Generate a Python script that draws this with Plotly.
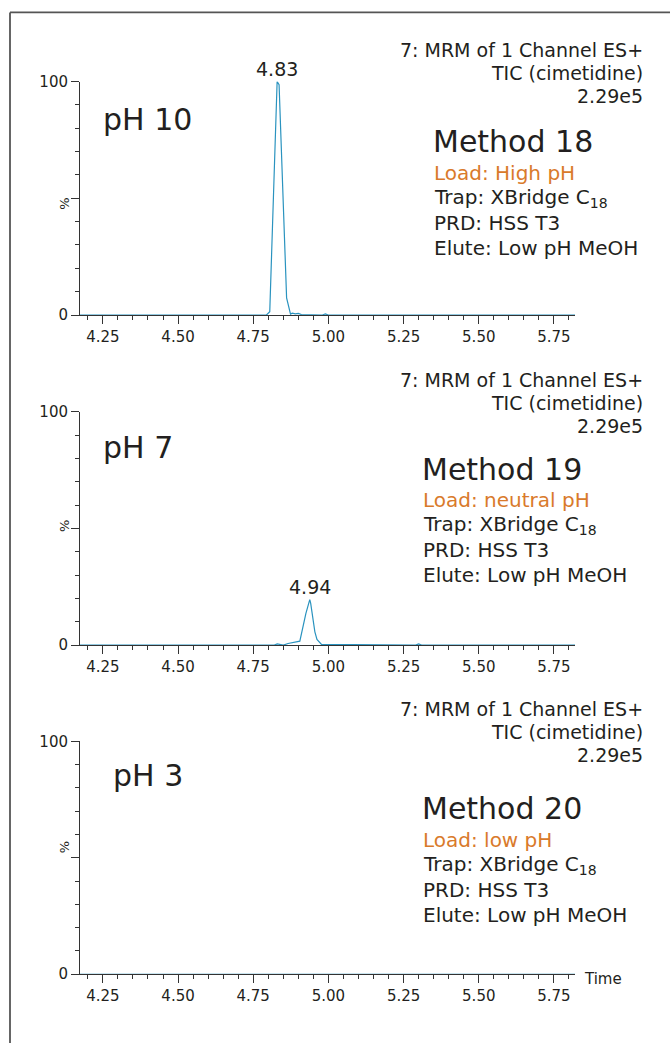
import plotly.graph_objects as go

# ---------------- data ----------------
time_ph10 = [4.174, 4.794, 4.805, 4.8295, 4.836, 4.861, 4.874, 4.88, 4.89, 4.90, 4.91, 4.98, 4.99, 5.00, 5.82]
int_ph10 = [0, 0, 1.4, 100, 98.7, 7.3, 0.4, 0.8, 0.5, 0.7, 0.2, 0, 0.5, 0, 0]

time_ph7 = [4.174, 4.82, 4.83, 4.84, 4.85, 4.866, 4.905, 4.925, 4.938, 4.941, 4.955, 4.962, 4.977, 5.29, 5.30, 5.31, 5.82]
int_ph7 = [0, 0, 0.5, 0.3, 0, 0.7, 1.7, 13.5, 19.5, 18, 5.7, 2.4, 0.3, 0, 0.5, 0, 0]

time_ph3 = [4.174, 4.50, 5.00, 5.50, 5.82]
int_ph3 = [0, 0, 0, 0, 0]

panel_ph = ["pH 10", "pH 7", "pH 3"]
panel_method = ["Method 18", "Method 19", "Method 20"]
panel_load = ["Load: High pH", "Load: neutral pH", "Load: low pH"]
trap_text = "Trap: XBridge C<sub>18</sub>"
prd_text = "PRD: HSS T3"
elute_text = "Elute: Low pH MeOH"
header_lines = ["7: MRM of 1 Channel ES+", "TIC (cimetidine)", "2.29e5"]
peak_labels = [("4.83", 4.83, 100), ("4.94", 4.938, 19.5), None]

x_ticks = [4.25, 4.50, 4.75, 5.00, 5.25, 5.50, 5.75]
x_ticktext = ["4.25", "4.50", "4.75", "5.00", "5.25", "5.50", "5.75"]
x_range = [4.174, 5.82]

# ---------------- layout helpers ----------------
W, H = 670, 1043
FONT = "DejaVu Sans, Verdana, sans-serif"
TXT = "#231f20"
ORANGE = "#d97a2b"
LINE = "#2a93bf"
AX = "#333333"

# the page is photographed slightly compressed vertically; compensate
SCALE_Y, OFF_Y = 0.9809, 9.57


def px(x):
    return x / W


def py(y):
    yi = (y - OFF_Y) / SCALE_Y
    return 1 - yi / H


# pixel geometry of each panel (top of 100, bottom at 0)
panels_px = [(82, 315), (411.5, 644.5), (740.5, 973)]
x_dom = [px(80), px(575)]

series = [(time_ph10, int_ph10), (time_ph7, int_ph7), (time_ph3, int_ph3)]

fig = go.Figure()
layout = dict(
    width=W, height=H,
    margin=dict(l=0, r=0, t=0, b=0),
    paper_bgcolor="white", plot_bgcolor="white",
    showlegend=False,
    font=dict(family=FONT, color=TXT),
)

annotations = []
for i, ((tx, ty), (top, bot)) in enumerate(zip(series, panels_px)):
    n = "" if i == 0 else str(i + 1)
    xa = "x" + n
    ya = "y" + n
    fig.add_trace(go.Scatter(x=tx, y=ty, mode="lines", xaxis=xa, yaxis=ya,
                             line=dict(color=LINE, width=1.2), hoverinfo="skip"))
    layout["xaxis" + n] = dict(
        domain=x_dom, range=x_range, anchor=ya,
        showgrid=False, zeroline=False, showline=True, linecolor=AX, linewidth=1,
        tickvals=x_ticks, ticktext=x_ticktext, ticks="outside", ticklen=8,
        tickcolor=AX, tickwidth=1,
        tickfont=dict(size=15, family=FONT, color=TXT),
        minor=dict(dtick=0.05, tick0=4.25, ticks="outside", ticklen=4, tickcolor=AX, tickwidth=1),
    )
    layout["yaxis" + n] = dict(
        domain=[py(bot), py(top)], range=[0, 100], anchor=xa,
        showgrid=False, zeroline=False, showline=True, linecolor=AX, linewidth=1,
        tickvals=[0, 50, 100], ticktext=["0", "", "100"], ticks="outside", ticklen=8,
        tickcolor=AX, tickwidth=1,
        tickfont=dict(size=15, family=FONT, color=TXT),
        minor=dict(dtick=10, tick0=0, ticks="outside", ticklen=4, tickcolor=AX, tickwidth=1),
    )
    # "%" axis label
    annotations.append(dict(text="%", x=px(55), y=py((top + bot) / 2 - 2), xref="paper", yref="paper",
                            showarrow=False, textangle=-90, font=dict(size=13, color=TXT)))
    # header (right aligned)
    hdr_y0 = top - 32
    for k, line in enumerate(header_lines):
        annotations.append(dict(text=line, x=px(645), y=py(hdr_y0 + 23 * k), xref="paper", yref="paper",
                                xanchor="right", yanchor="middle", showarrow=False,
                                font=dict(size=19, color=TXT)))

    # peak label
    if peak_labels[i] is not None:
        lab, lx, ly = peak_labels[i]
        annotations.append(dict(text=lab, x=lx, y=ly, xref=xa, yref=ya, xanchor="center",
                                yanchor="bottom", showarrow=False, font=dict(size=19, color=TXT)))

# pH labels
ph_pos = [(101, 120), (101, 447), (111, 775)]
for lab, (x, y) in zip(panel_ph, ph_pos):
    annotations.append(dict(text=lab, x=px(x), y=py(y), xref="paper", yref="paper",
                            xanchor="left", yanchor="middle", showarrow=False,
                            font=dict(size=30, color=TXT)))

# method blocks
method_pos = [(431, 142), (420, 469), (420, 808)]
for k, (x, y) in enumerate(method_pos):
    annotations.append(dict(text=panel_method[k], x=px(x), y=py(y), xref="paper", yref="paper",
                            xanchor="left", yanchor="middle", showarrow=False,
                            font=dict(size=30, color=TXT)))
    lines = [(panel_load[k], ORANGE), (trap_text, TXT), (prd_text, TXT), (elute_text, TXT)]
    for j, (t, c) in enumerate(lines):
        annotations.append(dict(text=t, x=px(x + 1), y=py(y + 31 + 25 * j), xref="paper", yref="paper",
                                xanchor="left", yanchor="middle", showarrow=False,
                                font=dict(size=20, color=c)))

# Time label
annotations.append(dict(text="Time", x=px(582), y=py(978), xref="paper", yref="paper",
                        xanchor="left", yanchor="middle", showarrow=False,
                        font=dict(size=15, color=TXT)))

layout["annotations"] = annotations
layout["shapes"] = [
    dict(type="line", xref="paper", yref="paper", x0=px(10), x1=px(10), y0=-0.02, y1=py(13),
         line=dict(color="#555555", width=1.8)),
    dict(type="line", xref="paper", yref="paper", x0=px(10), x1=1.01, y0=py(13), y1=py(13),
         line=dict(color="#555555", width=1.8)),
]
fig.update_layout(**layout)
fig.write_html("out.html")
